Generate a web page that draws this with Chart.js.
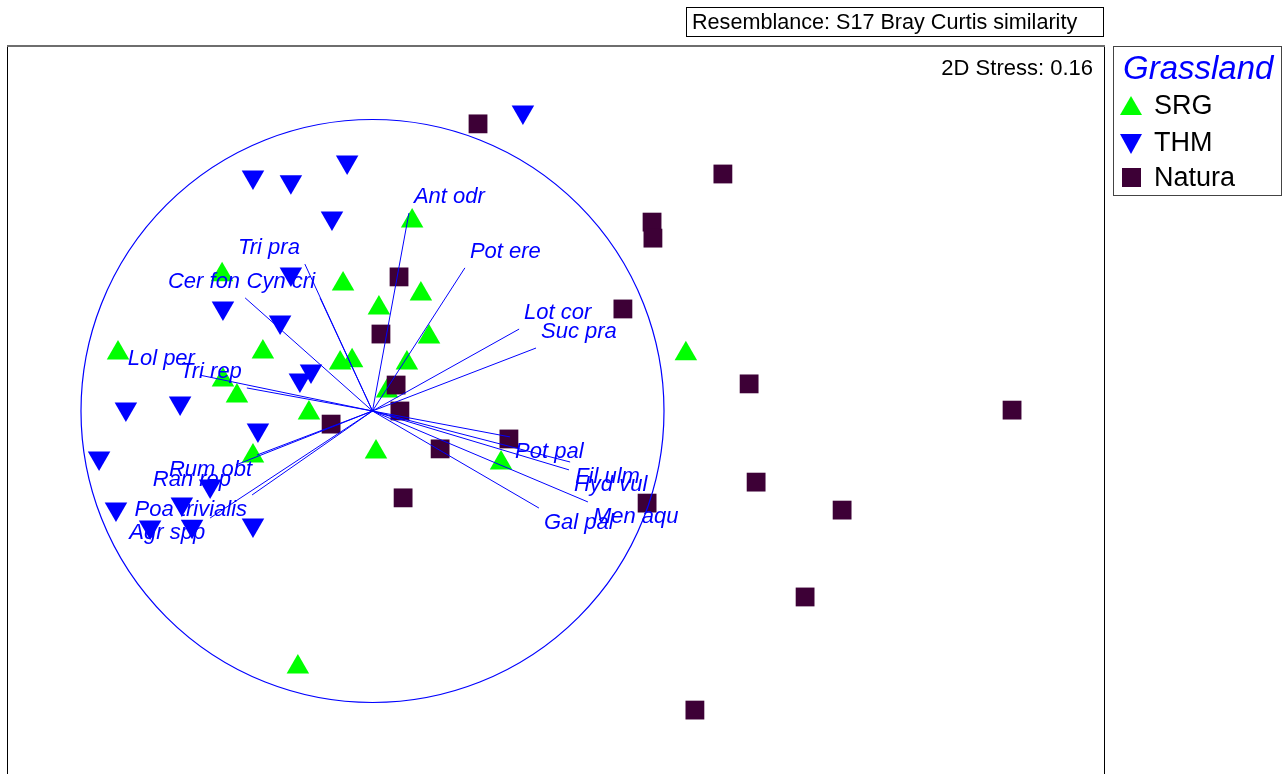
<!DOCTYPE html>
<html>
<head>
<meta charset="utf-8">
<script src="https://cdn.jsdelivr.net/npm/chart.js@4.4.1/dist/chart.umd.min.js"></script>
<style>
body { margin: 0; overflow: hidden; background: #fff; font-family: Arial, "Liberation Sans", sans-serif; }
#wrap { position: relative; width: 1284px; height: 800px; }
.abs { position: absolute; white-space: nowrap; line-height: 1; }
#resem { left: 686px; top: 7px; width: 416px; height: 28px; border: 1px solid #000; }
#legend { left: 1113px; top: 46px; width: 167px; height: 148px; border: 1px solid #444; }
.tri-up { width: 0; height: 0; border-left: 11.5px solid transparent; border-right: 11.5px solid transparent; border-bottom: 19px solid #00ff00; }
.tri-down { width: 0; height: 0; border-left: 11.5px solid transparent; border-right: 11.5px solid transparent; border-top: 20px solid #0000ff; }
.sq { width: 19px; height: 19px; background: #3d0036; }
</style>
</head>
<body>
<div id="wrap">
<canvas id="mds"></canvas>

<div id="resem" class="abs"></div>
<span class="abs" style="left:692px; top:11px; font-size:21.6px;">Resemblance: S17 Bray Curtis similarity</span>

<span class="abs" style="right:191px; top:57px; font-size:22px;">2D Stress: 0.16</span>

<div id="legend" class="abs"></div>
<span class="abs" style="left:1123px; top:51px; font-size:33px; font-style:italic; color:#0000ff;">Grassland</span>
<div class="abs tri-up" style="left:1120px; top:96px;"></div>
<span class="abs" style="left:1154px; top:92px; font-size:27px;">SRG</span>
<div class="abs tri-down" style="left:1120px; top:134px;"></div>
<span class="abs" style="left:1154px; top:129px; font-size:27px;">THM</span>
<div class="abs sq" style="left:1122px; top:168px;"></div>
<span class="abs" style="left:1154px; top:164px; font-size:27px;">Natura</span>
</div>

<script>
// ordination scores (MDS axis 1 / axis 2)
const srgX = [0.136, -0.516, -0.101, 0.166, 0.022, 0.194, -0.376, -0.873, -0.111, -0.070,
              0.118, 1.075, -0.513, -0.465, 0.050, -0.218, 0.012, -0.410, 0.441, -0.256];
const srgY = [0.652, 0.467, 0.436, 0.401, 0.353, 0.254, 0.202, 0.199, 0.165, 0.172,
              0.165, 0.196, 0.106, 0.051, 0.069, -0.007, -0.141, -0.154, -0.178, -0.878];

const thmX = [0.516, -0.410, -0.280, -0.087, -0.139, -0.280, -0.513, -0.317, -0.249, -0.211,
              -0.846, -0.660, -0.393, -0.938, -0.557, -0.654, -0.880, -0.763, -0.619, -0.410];
const thmY = [1.026, 0.803, 0.786, 0.854, 0.662, 0.470, 0.353, 0.305, 0.106, 0.137,
              0.007, 0.027, -0.065, -0.161, -0.257, -0.319, -0.336, -0.398, -0.395, -0.391];

const natX = [0.362, 1.202, 0.959, 0.962, 0.091, 0.859, 0.029, 1.292, 0.081, 0.094,
              2.194, -0.142, 0.468, 0.232, 1.316, 0.105, 0.942, 1.611, 1.484, 1.106];
const natY = [0.985, 0.813, 0.648, 0.593, 0.460, 0.350, 0.264, 0.093, 0.089, 0.000,
              0.003, -0.045, -0.096, -0.130, -0.244, -0.298, -0.316, -0.340, -0.638, -1.026];

// species vectors (correlations)
const species = ["Ant odr", "Pot ere", "Lot cor", "Suc pra", "Tri pra", "Cyn cri", "Cer fon",
                 "Lol per", "Tri rep", "Rum obt", "Ran rep", "Poa trivialis", "Agr spp",
                 "Pot pal", "Fil ulm", "Hyd vul", "Men aqu", "Gal pal"];
const vecX = [0.125, 0.317, 0.503, 0.561, -0.232, -0.180, -0.437,
              -0.592, -0.431, -0.396, -0.468, -0.413, -0.557,
              0.472, 0.678, 0.674, 0.739, 0.571];
const vecY = [0.679, 0.491, 0.281, 0.216, 0.504, 0.388, 0.388,
              0.123, 0.079, -0.151, -0.185, -0.288, -0.367,
              -0.089, -0.175, -0.202, -0.312, -0.333];

const BLUE = "#0000ff";

function pts(xs, ys) {
  return xs.map((x, i) => ({ x: x, y: ys[i] }));
}

const datasets = [
  { label: "SRG", data: pts(srgX, srgY), pointStyle: "triangle", pointRadius: 13,
    backgroundColor: "#00ff00", borderColor: "#00ff00", borderWidth: 0, order: 4 },
  { label: "THM", data: pts(thmX, thmY), pointStyle: "triangle", rotation: 180, pointRadius: 13,
    backgroundColor: BLUE, borderColor: BLUE, borderWidth: 0, order: 3 },
  { label: "Natura", data: pts(natX, natY), pointStyle: "rect", pointRadius: 13.3,
    backgroundColor: "#3d0036", borderColor: "#3d0036", borderWidth: 0, order: 2 }
];

// one line per species, from origin
species.forEach((name, i) => {
  datasets.push({
    label: name,
    data: [{ x: 0, y: 0 }, { x: vecX[i], y: vecY[i] }],
    showLine: true, pointRadius: 0, borderColor: BLUE, borderWidth: 1, order: 1
  });
});

// circle, species labels and frame
const overlay = {
  id: "overlay",
  afterDatasetsDraw(chart) {
    const ctx = chart.ctx;
    const xs = chart.scales.x, ys = chart.scales.y;
    const cx = xs.getPixelForValue(0), cy = ys.getPixelForValue(0);
    const r = xs.getPixelForValue(1) - cx;
    const a = chart.chartArea;

    ctx.save();
    ctx.beginPath();
    ctx.rect(a.left, a.top, a.right - a.left, a.bottom - a.top);
    ctx.clip();
    ctx.beginPath();
    ctx.arc(cx, cy, r, 0, Math.PI * 2);
    ctx.strokeStyle = BLUE;
    ctx.lineWidth = 1.2;
    ctx.stroke();

    ctx.fillStyle = BLUE;
    ctx.font = 'italic 22px Arial, "Liberation Sans"';
    ctx.textBaseline = "middle";
    species.forEach((name, i) => {
      const px = xs.getPixelForValue(vecX[i]);
      const py = ys.getPixelForValue(vecY[i]);
      ctx.textAlign = vecX[i] >= 0 ? "left" : "right";
      const tx = vecX[i] >= 0 ? px + 5 : px - 5;
      const ty = vecY[i] >= 0 ? py - 16 : py + 15;
      ctx.fillText(name, tx, ty);
    });
    ctx.restore();

    // frame
    ctx.save();
    ctx.strokeStyle = "#000";
    ctx.lineWidth = 1;
    ctx.beginPath();
    ctx.moveTo(a.left - 0.5, a.top);
    ctx.lineTo(a.left - 0.5, a.bottom);
    ctx.moveTo(a.right + 0.5, a.top);
    ctx.lineTo(a.right + 0.5, a.bottom);
    ctx.stroke();
    ctx.strokeStyle = "#6e6e6e";
    ctx.lineWidth = 2;
    ctx.beginPath();
    ctx.moveTo(a.left - 1, a.top);
    ctx.lineTo(a.right + 1, a.top);
    ctx.stroke();
    ctx.restore();
  }
};

new Chart(document.getElementById("mds"), {
  type: "scatter",
  data: { datasets: datasets },
  options: {
    responsive: true,
    maintainAspectRatio: false,
    animation: false,
    layout: { autoPadding: false, padding: { left: 8, top: 46, right: 180, bottom: 0 } },
    scales: {
      x: { type: "linear", min: -1.2504, max: 2.5094, display: false },
      y: { type: "linear", min: -1.3345, max: 1.2521, display: false }
    },
    plugins: {
      legend: { display: false },
      tooltip: { enabled: false }
    }
  },
  plugins: [overlay]
});
</script>
</body>
</html>
